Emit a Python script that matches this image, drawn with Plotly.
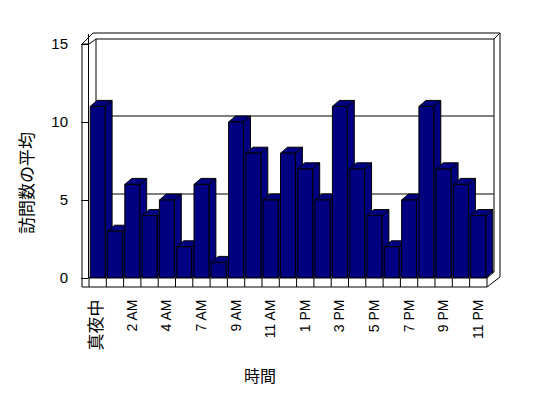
import plotly.graph_objects as go

# ---- data ----
hours = ["真夜中", "1 AM", "2 AM", "3 AM", "4 AM", "5 AM", "7 AM", "8 AM", "9 AM",
         "10 AM", "11 AM", "正午", "1 PM", "2 PM", "3 PM", "4 PM", "5 PM", "6 PM",
         "7 PM", "8 PM", "9 PM", "10 PM", "11 PM"]
visits = [11, 3, 6, 4, 5, 2, 6, 1, 10, 8, 5, 8, 7, 5, 11, 7, 4, 2, 5, 11, 7, 6, 4]
y_ticks = [0, 5, 10, 15]
x_title = "時間"
y_title = "訪問数の平均"

# ---- geometry (pixels) ----
FW, FH = 548, 398
L, R, T, B = 89, 500, 34, 278
UX, UY = 17.3, 15.6          # px per category / per unit
XMAX = -0.5 + (R - L) / UX
YMAX = (B - T) / UY
DX, DY = 7 / UX, 6 / UY      # 3D depth offset in data units
BW = 0.86
NAVY = "#000080"
FONT = "Liberation Sans, Arial, Noto Sans CJK JP, sans-serif"


def P(px, py):
    return (px - L) / (R - L), (B - py) / (B - T)


shapes = []


def pline(x0, y0, x1, y1, layer="above"):
    a, b = P(x0, y0)
    c, d = P(x1, y1)
    shapes.append(dict(type="line", xref="paper", yref="paper", x0=a, y0=b, x1=c, y1=d,
                       line=dict(color="black", width=1), layer=layer))


# back wall + gridlines (drawn below bars)
a, b = P(96, 39)
c, d = P(494, 272)
shapes.append(dict(type="rect", xref="paper", yref="paper", x0=a, y0=d, x1=c, y1=b,
                   line=dict(color="black", width=1), layer="below"))
n = len(hours)
for g in y_ticks[1:-1]:
    shapes.append(dict(type="line", xref="x", yref="y", x0=-0.5 + DX, x1=n - 0.5 + DX,
                       y0=g + DY, y1=g + DY, line=dict(color="black", width=1), layer="below"))
pline(89, 278, 96, 272, "below")

# 3D top and side faces of bars
for i, v in enumerate(visits):
    x0, x1 = i - BW / 2, i + BW / 2
    side = f"M {x1},0 L {x1},{v} L {x1 + DX},{v + DY} L {x1 + DX},{DY} Z"
    top = f"M {x0},{v} L {x1},{v} L {x1 + DX},{v + DY} L {x0 + DX},{v + DY} Z"
    for p in (side, top):
        shapes.append(dict(type="path", xref="x", yref="y", path=p, fillcolor=NAVY,
                           line=dict(color="black", width=1), layer="below"))

# outer frame / walls / floor
pline(82, 44, 82, 287)
pline(82, 44, 93, 33)
pline(82, 44, 89, 44)
pline(93, 33, 500, 33)
pline(500, 33, 500, 277)
pline(494, 39, 500, 33)
pline(89, 44, 96, 39)
pline(89, 278, 89, 287)
pline(89, 278, 487, 278)
pline(82, 287, 487, 287)
pline(487, 278, 487, 287)
pline(487, 287, 500, 277)
pline(487, 278, 494, 272)
# floor dividers between categories
yb = P(0, 287)[1]
for k in range(n - 1):
    shapes.append(dict(type="line", xref="x", yref="paper", x0=k + 0.5, x1=k + 0.5,
                       y0=0, y1=yb, line=dict(color="black", width=1)))

fig = go.Figure(go.Bar(x=hours, y=visits, width=BW,
                       marker=dict(color=NAVY, line=dict(color="black", width=1))))

ticktext = [f"<span style='font-size:17px'>{h}</span>" if not h[0].isdigit() else h
            for h in hours[::2]]

ax, ay = P(27, 183)
bx, by = P(260, 376)
fig.update_layout(
    width=FW, height=FH,
    margin=dict(l=L, r=FW - R, t=T, b=FH - B),
    paper_bgcolor="white", plot_bgcolor="white",
    showlegend=False,
    font=dict(family=FONT, color="black"),
    shapes=shapes,
    xaxis=dict(type="category", range=[-0.5, XMAX], showgrid=False, zeroline=False,
               showline=False, tickmode="array", tickvals=hours[::2], ticktext=ticktext,
               tickangle=-90, ticks="outside", ticklen=10, tickcolor="rgba(0,0,0,0)",
               ticklabelstandoff=5, tickfont=dict(size=14, family=FONT, color="black")),
    yaxis=dict(range=[0, YMAX], showgrid=False, zeroline=False, showline=True,
               linecolor="black", linewidth=1, ticks="outside", ticklen=7,
               tickcolor="black", tickvals=y_ticks, ticklabelstandoff=10,
               tickfont=dict(size=15, family=FONT, color="black")),
    annotations=[
        dict(text=y_title, xref="paper", yref="paper", x=ax, y=ay, showarrow=False,
             textangle=-90, xanchor="center", yanchor="middle",
             font=dict(size=17, family=FONT, color="black")),
        dict(text=x_title, xref="paper", yref="paper", x=bx, y=by, showarrow=False,
             xanchor="center", yanchor="middle", font=dict(size=16, family=FONT, color="black")),
    ],
)

fig.write_html("out.html", config={"displayModeBar": False},
               post_script="document.body.style.margin='0';document.body.style.padding='0';")
